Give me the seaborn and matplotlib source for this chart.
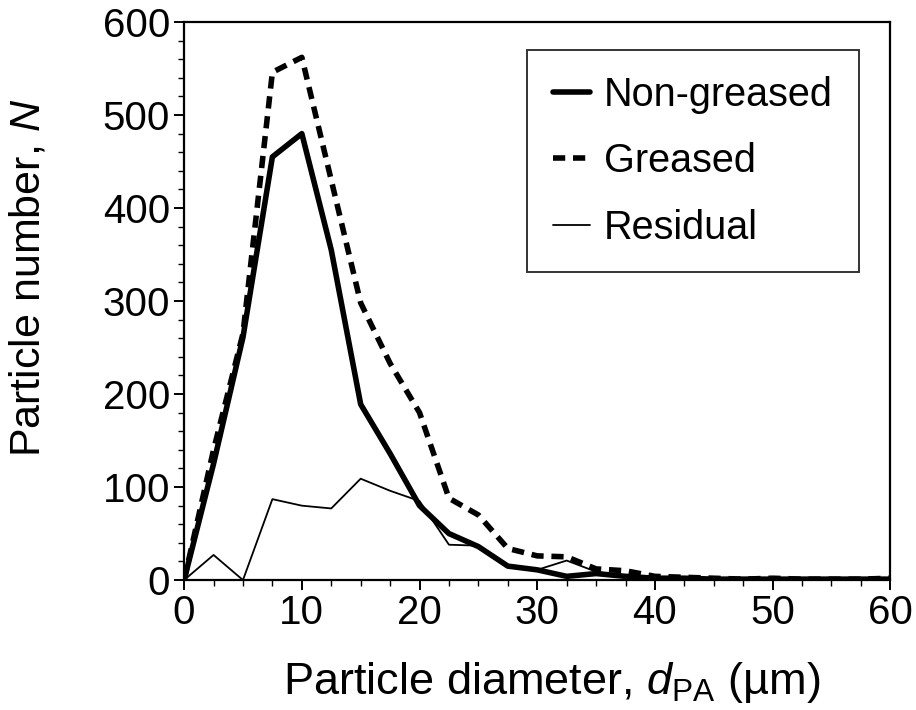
import numpy as np
import pandas as pd
import matplotlib
matplotlib.use("Agg")
import matplotlib.pyplot as plt
import seaborn as sns
from matplotlib.ticker import MultipleLocator

# particle diameter bins (um)
diameter = [0, 2.5, 5, 7.5, 10, 12.5, 15, 17.5, 20, 22.5, 25, 27.5, 30, 32.5,
            35, 37.5, 40, 42.5, 45, 47.5, 50, 52.5, 55, 57.5, 60]

# particle counts
non_greased = [0, 125, 261, 455, 480, 355, 189, 136, 80, 50, 36, 15, 11, 4,
               7, 4, 2, 2, 1, 1, 1, 1, 1, 1, 1]
greased = [0, 140, 265, 546, 562, 430, 298, 233, 180, 88, 70, 34, 26, 25,
           12, 10, 4, 3, 2, 1, 2, 1, 1, 1, 2]
residual = [0, 27, 0, 87, 80, 77, 109, 96, 85, 38, 37, 16, 11, 21,
            9, 4, 2, 1, 1, 1, 1, 1, 1, 1, 1]

sns.set_style("ticks")
plt.rcParams['font.family'] = ['Liberation Sans', 'DejaVu Sans']
plt.rcParams['mathtext.fontset'] = 'custom'
plt.rcParams['mathtext.rm'] = 'Liberation Sans'
plt.rcParams['mathtext.it'] = 'Liberation Sans:italic'
for key in ['text.color', 'axes.labelcolor', 'xtick.color', 'ytick.color']:
    plt.rcParams[key] = 'black'

fig = plt.figure(figsize=(9.16, 7.10), dpi=100)
ax = fig.add_axes([0.201, 0.183, 0.771, 0.786])

sns.lineplot(x=diameter, y=non_greased, ax=ax, color="black", linewidth=4,
             label="Non-greased")
sns.lineplot(x=diameter, y=greased, ax=ax, color="black", linewidth=4,
             linestyle=(0, (2.2, 1.4)), label="Greased")
sns.lineplot(x=diameter, y=residual, ax=ax, color="black", linewidth=1.3,
             label="Residual")

ax.set_xlim(0, 60)
ax.set_ylim(0, 600)
ax.xaxis.set_major_locator(MultipleLocator(10))
ax.xaxis.set_minor_locator(MultipleLocator(2.5))
ax.yaxis.set_major_locator(MultipleLocator(100))
ax.yaxis.set_minor_locator(MultipleLocator(20))

for s in ax.spines.values():
    s.set_linewidth(1.6)
    s.set_color("black")
ax.tick_params(which="major", direction="out", length=7, width=1.4,
               labelsize=29, pad=3)
ax.tick_params(which="minor", direction="out", length=4, width=1.0)

ax.set_xlabel("Particle diameter, $\\mathit{d}_{\\mathrm{PA}}$ (\u00b5m)",
              fontsize=32.5)
ax.set_ylabel("Particle number, $\\mathit{N}$", fontsize=31)
ax.xaxis.set_label_coords(0.52, -0.143)
ax.yaxis.set_label_coords(-0.192, 0.541)

leg = ax.legend(loc="upper right", fontsize=28.5, frameon=True, fancybox=False,
                edgecolor="black", handlelength=0.95, labelspacing=0.72,
                borderpad=0.65, handletextpad=0.35, borderaxespad=0,
                bbox_to_anchor=(0.955, 0.950))
leg.get_frame().set_linewidth(1.4)

fig.savefig("out.png", dpi=100)
